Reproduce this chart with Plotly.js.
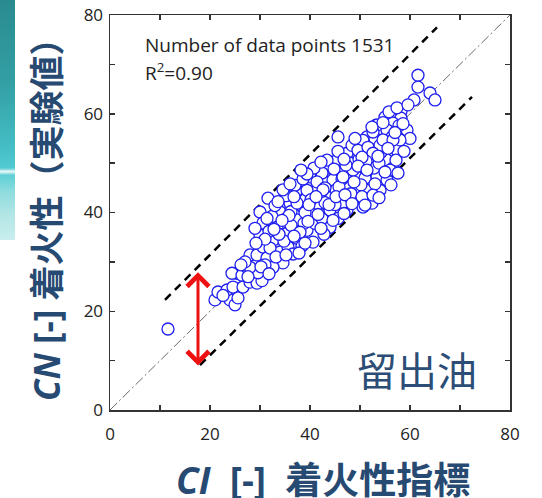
<!DOCTYPE html>
<html><head><meta charset="utf-8">
<script src="https://cdn.plot.ly/plotly-3.0.1.min.js"></script>
<style>
html,body{margin:0;padding:0;background:#fff;}
#deco{position:absolute;left:0;top:0;width:15px;height:240px;
background:linear-gradient(to bottom,#2a8b8f 0%,#33a0a5 35%,#44bcc3 60%,#52cad2 70%,#e8f8f8 71.5%,#5fd0d6 73%,#8fdcdf 80%,#b5e6e6 90%,#c9eeee 100%);}
#chart{position:absolute;left:0;top:0;width:542px;height:498px;}
</style></head><body>
<div id="deco"></div><div id="chart"></div>
<script>
// CI (x) vs CN (y) values
const cnX = [11.6,21,21.6,24,25,25.6,23.4,24.6,25.4,24.4,26.4,26.6,28,29.4,27.4,28.6,28,29.4,22.6,30.4,29.6,
 31.6,30,30.6,30,30.6,28,34,33.4,35.4,32.6,34,31.4,37.4,36,38.6,37.4,40,39.4,37.4,40.6,34.6,41.4,44,42,40,42.6,44.6,43.6,44,35.6,32,27,32.6,
 31.8,32.4,33,35,36.2,34.8,36.6,38.4,36.2,38.8,31,33.2,35.2,31,38,39.2,41,42.4,42.8,
 45.6,55,53.2,56,51.4,54,56,49.4,52,50,47.4,52.6,55.4,56.6,45.4,48,50.6,44,46.6,49.4,53.4,55.4,42.4,41.4,44.6,47.4,51.4,54,37,39.4,43.4,46,49.4,52.4,50.6,37.4,41.4,44,47.4,40,
 46.4,48.6,51,45.2,48.2,50.2,43,47.2,49.8,52.8,54.2,51.8,46.2,45.6,50.4,53,42,40.2,38.6,40.8,43.4,45.6,48.4,50.6,53,39.4,
 61.6,61.6,60.8,64,65,58.2,58.2,56.6,59.4,60,53.4,52.6,55.4,56.4,57.4,49,49.6,51.6,54,52.6,58,57.2,56,52.6,51,54.6,56.6,52.4,
 33.8,36.8,35.8,39,41.6,43,45,45.8,48.8,51.2,53.8,55,57.8,54.6,50.4,46.8,44.8,42.6,39.8,36.8,34.4,32.8,
 29,29.2,31.4,33.6,34.6,36,38.2,42.2,39.6,41.2,43.8,45.2,47,46.6,49.6,51.4,53.6,55.6,57,58.6,55.8,57.4,59.6,53.8,56.2,57.6,58.8,35.2,37.8,39,42.2,44.6,46.8,48.4,27.6,26.2,30.2,31.8];
const cnY = [16.4,22.3,23.9,22.3,21.3,22.7,24.3,24.9,27.7,27.7,27.3,24.9,25.9,25.7,28.9,28.3,31.4,31.4,23.2,26.2,27.8,
 42.9,40.1,37.9,35.4,33,28.9,40.1,37,35.8,34.4,32,30.8,44.5,41.9,41.1,38.5,39.1,36.4,34.8,34,29.8,44.5,43.1,41.1,47.2,46.6,47.6,39.9,37,33,32.8,30,28.9,
 36.2,39.2,41.4,38.6,37.4,34.2,31.6,33.2,40.2,37.8,29.4,31,43.4,34.6,36,42.8,37.8,38.8,35.6,
 55.3,59.3,57.7,57.7,55.3,56,54.7,54,53.6,52.6,52,50.6,50.6,49,50.6,50,49,49,48,47.2,47.2,46.6,48,46.2,46.6,45.1,44.5,44.5,45.5,44.5,43.9,42.9,42.5,41.9,41.1,41.9,41.5,40.5,40.5,39.9,
 46.8,48.6,47,44.6,43.8,45.6,45,49.6,50.8,49,52.2,52,41.6,38.8,43.2,45.8,43.4,42.6,46.8,49,50.6,52.4,53.6,54.6,55,47.8,
 67.8,65.4,62.8,64.2,62.8,60.5,59.1,58.1,56.7,55,57.7,56.3,56.7,55.3,52.6,55,52.6,53.2,53.6,52,54.7,50.6,48.6,43.5,41.5,54.7,54.7,57.3,
 35.6,35.2,39.4,40,39.6,42,41.6,45.2,46.2,50.4,50,48.2,57.6,58.2,51.2,50.8,48.8,44.6,41.6,43.2,38.4,36.6,
 36.8,33.8,38.8,42.2,44.6,45.8,48.6,50.2,38.2,43.2,41.6,43.2,43.6,47.2,49.4,48.6,51.4,53,56.2,58,60.4,61.2,61.8,43,45.6,48,52.4,31.4,31.8,33.8,36.8,38.4,39.8,41.8,27,29.4,29,27.6];

const xTickVals = [0,20,40,60,80];
const yTickVals = [0,20,40,60,80];
const minorTickVals = [10,30,50,70];

// reference line y = x and the two band lines
const parityX = [0,80], parityY = [0,80];
const upperX = [11,65.4], upperY = [22.3,77.5];
const lowerX = [18,72.4], lowerY = [9.1,63.4];
// red double arrow
const arrowX = 17.6, arrowTop = 27.9, arrowBottom = 8.7;

const navy = '#274a72';
const titleFont = 'Open Sans, Noto Sans CJK JP, sans-serif';
const axisStyle = (vals, standoff) => ({
  range:[0,80], tickvals:vals, ticks:'inside', ticklen:5, tickwidth:1.5, tickcolor:'#333',
  showline:true, linecolor:'#333', linewidth:1.5, mirror:'ticks', showgrid:false, zeroline:false,
  tickfont:{family:'Open Sans', size:17, color:'#222'}, ticklabelstandoff:standoff,
  minor:{tickvals:minorTickVals, ticks:'inside', ticklen:5, tickwidth:1.5, tickcolor:'#333', showgrid:false},
  fixedrange:true
});

const traces = [
  {x:parityX, y:parityY, mode:'lines', line:{color:'#444', width:0.8, dash:'10px,3px,2px,3px'}, hoverinfo:'skip'},
  {x:upperX, y:upperY, mode:'lines', line:{color:'#000', width:2.5, dash:'8px,6px'}, hoverinfo:'skip'},
  {x:lowerX, y:lowerY, mode:'lines', line:{color:'#000', width:2.5, dash:'8px,6px'}, hoverinfo:'skip'},
  {x:cnX, y:cnY, mode:'markers', marker:{symbol:'circle', size:12, color:'#ffffff', line:{color:'#1f1ff0', width:1.3}}}
];

const layout = {
  width:542, height:498,
  margin:{l:110, r:32, t:15, b:88},
  paper_bgcolor:'rgba(0,0,0,0)', plot_bgcolor:'#ffffff',
  showlegend:false,
  xaxis:axisStyle(xTickVals, 8),
  yaxis:axisStyle(yTickVals, 2),
  annotations:[
    {xref:'x', yref:'y', x:arrowX, y:arrowTop, ax:arrowX, ay:arrowBottom, axref:'x', ayref:'y',
     text:'', showarrow:true, arrowside:'end+start', arrowhead:4, startarrowhead:4, arrowsize:1.4, startarrowsize:1.4,
     arrowwidth:3, arrowcolor:'#ee1111', standoff:0, startstandoff:0},
    {xref:'paper', yref:'paper', x:0.0825, y:0.924, xanchor:'left', yanchor:'middle', showarrow:false,
     text:'Number of data points 1531', font:{family:'Open Sans', size:19, color:'#222'}},
    {xref:'paper', yref:'paper', x:0.0825, y:0.856, xanchor:'left', yanchor:'middle', showarrow:false,
     text:'R<sup>2</sup>=0.90', font:{family:'Open Sans', size:19, color:'#222'}},
    {xref:'paper', yref:'paper', x:0.7675, y:0.104, xanchor:'center', yanchor:'middle', showarrow:false,
     text:'留出油', font:{family:'Noto Sans CJK JP', size:40, color:'#2c4d75'}},
    {xref:'paper', yref:'paper', x:0.5325, y:-0.177, xanchor:'center', yanchor:'middle', showarrow:false,
     text:'<b><i>CI</i>&nbsp; [-]&nbsp; 着火性指標</b>', font:{family:titleFont, size:37, color:navy}},
    {xref:'paper', yref:'paper', x:-0.1575, y:0.504, xanchor:'center', yanchor:'middle', showarrow:false, textangle:-90,
     text:'<b><i>CN</i> [-] 着火性（実験値）</b>', font:{family:titleFont, size:35, color:navy}}
  ]
};

Plotly.newPlot('chart', traces, layout, {staticPlot:true, displayModeBar:false});
</script>
</body></html>
